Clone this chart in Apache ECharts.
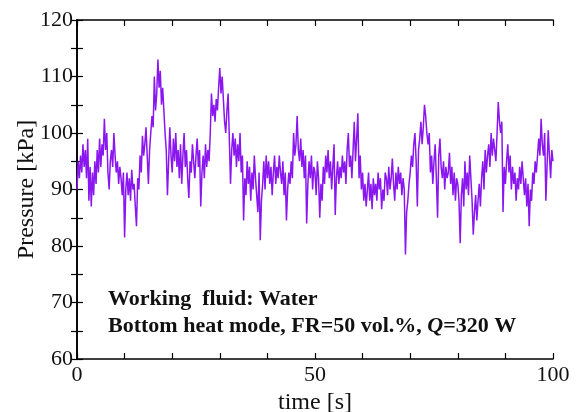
<!DOCTYPE html>
<html>
<head>
<meta charset="utf-8">
<script src="https://cdn.jsdelivr.net/npm/echarts@6/dist/echarts.min.js"></script>
<style>
  html, body { margin: 0; padding: 0; background: #fff; }
  #pressure_chart { width: 578px; height: 412px; }
</style>
</head>
<body>
<div id="pressure_chart"></div>
<script>
var sampleStep = 0.25;
var pressure = [
  90, 95, 92, 96,   93, 98, 94, 97,   92, 99, 88, 94,   87, 93, 89, 95,
  91, 97, 93, 99,   94, 98, 96, 102.5, 97, 100, 93, 90,  95, 97, 94, 100,
  96, 93, 95, 91,   94, 92, 89, 93,   81.5, 90, 93, 89, 92, 88, 93.5, 90,
  91, 87, 83.5, 92, 90, 96, 93, 99.5, 96, 98, 101, 96,  91, 97, 100, 103,
  101, 110, 104, 107, 113, 108, 111, 105, 108, 104, 100, 97, 89, 95, 101, 96,
  93, 99, 95, 100,  94, 97, 92, 98,   91, 96, 100, 94,  97, 92, 88.5, 95,
  93, 98, 95, 92,   96, 99, 94, 97,   87, 93, 96, 92,   98, 94, 97, 95,
  100, 107, 103, 105, 102, 106, 104, 108, 111.5, 107, 110, 106, 102, 100, 104, 107,
  99, 91, 97, 100,  96, 99, 94, 98,   95, 100, 93, 96,  84.5, 92, 89, 95,
  91, 94, 88, 93,   90, 96, 92, 89,   86, 93, 81, 88,   91, 95, 90, 96,
  92, 95, 91, 94,   89, 93, 96, 91,   94, 92, 96, 93,   91, 95, 89, 93,
  84.5, 90, 93, 91, 95, 92, 100, 96,  98, 103, 97, 95,  99, 94, 97, 92,
  96, 84, 91, 95,   92, 96, 90, 94,   93, 89, 95, 92,   85, 91, 88, 94,
  91, 96, 93, 97,   92, 95, 90, 94,   98, 85.5, 92, 95, 91, 94, 92, 96,
  93, 95, 91, 97,   100, 94, 96, 92,  97, 102, 95, 99,  103.5, 92, 96, 90,
  93, 88, 91, 87,   90, 93, 88, 91,   86.5, 92, 89, 91, 88, 93, 90, 92,
  86.5, 90, 88, 93, 92, 89, 94, 90,   92, 95.5, 91, 88, 93, 90, 94, 91,
  93, 89, 92, 90,   78.5, 86, 88, 91, 93, 96, 94, 98,   100, 95, 87, 97,
  99, 102, 98, 101, 105, 103, 100, 98, 100, 93, 96, 91, 95, 98, 92, 85,
  96, 99, 94, 92,   95, 90, 94, 92,   93, 96.5, 91, 94, 89, 93, 88, 92,
  91, 88, 80.5, 89, 92, 87, 95, 90,   93, 89, 96, 92,   88, 82, 86, 89,
  84.5, 88, 91, 87, 92, 95, 90, 97,   93, 96, 98, 94,   100, 96, 99, 97,
  95, 100, 105.5, 102, 100, 102, 86, 94, 91, 95, 98, 93, 96, 90, 94, 91,
  93, 88, 92, 90,   94, 91, 95, 92,   89, 92, 87, 91,   83.5, 90, 88, 93,
  91, 95, 93, 96,   99, 96, 102.5, 98, 96, 100, 88, 94, 100.5, 96, 92, 97,
  95
];
var xTickLabels = [0, 50, 100];
var yTickLabels = [60, 70, 80, 90, 100, 110, 120];

var points = [];
for (var i = 0; i < pressure.length; i++) {
  points.push([i * sampleStep, pressure[i]]);
}

var serif = '"Liberation Serif", "Times New Roman", serif';
var myChart = echarts.init(document.getElementById('pressure_chart'));

var option = {
  animation: false,
  backgroundColor: '#fff',
  grid: { left: 77, right: 25, top: 20, bottom: 53, outerBoundsMode: 'none' },
  xAxis: [
    {
      type: 'value', min: 0, max: 100, interval: 10,
      name: 'time [s]', nameLocation: 'middle', nameGap: 29,
      nameTextStyle: { fontFamily: serif, fontSize: 24, color: '#111' },
      axisLine: { show: true, lineStyle: { color: '#000', width: 1.6 } },
      axisTick: { show: true, inside: true, length: 6, lineStyle: { color: '#000', width: 1.2 } },
      axisLabel: {
        fontFamily: serif, fontSize: 22, color: '#111', margin: 5,
        formatter: function (v) { return xTickLabels.indexOf(v) >= 0 ? String(v) : ''; }
      },
      splitLine: { show: false }
    },
    {
      type: 'value', min: 0, max: 100, interval: 10, position: 'top',
      axisLine: { show: true, lineStyle: { color: '#000', width: 1.6 } },
      axisTick: { show: true, inside: true, length: 6, lineStyle: { color: '#000', width: 1.2 } },
      axisLabel: { show: false },
      splitLine: { show: false }
    }
  ],
  yAxis: [
    {
      type: 'value', min: 60, max: 120, interval: 5,
      name: 'Pressure [kPa]', nameLocation: 'middle', nameGap: 38, nameMoveOverlap: false,
      nameTextStyle: { fontFamily: serif, fontSize: 24, color: '#111' },
      axisLine: { show: true, lineStyle: { color: '#000', width: 1.6 } },
      axisTick: { show: true, inside: true, length: 6, lineStyle: { color: '#000', width: 1.2 } },
      axisLabel: {
        fontFamily: serif, fontSize: 22, color: '#111', margin: 4,
        formatter: function (v) { return yTickLabels.indexOf(v) >= 0 ? String(v) : ''; }
      },
      splitLine: { show: false }
    },
    {
      type: 'value', min: 60, max: 120, interval: 5, position: 'right',
      axisLine: { show: true, lineStyle: { color: '#000', width: 1.6 } },
      axisTick: { show: true, inside: true, length: 6, lineStyle: { color: '#000', width: 1.2 } },
      axisLabel: { show: false },
      splitLine: { show: false }
    }
  ],
  graphic: [
    {
      type: 'text', left: 108, top: 288,
      style: {
        text: 'Working  fluid: Water',
        font: 'bold 22px ' + serif, fill: '#111'
      }
    },
    {
      type: 'text', left: 108, top: 315,
      style: {
        text: '{b|Bottom heat mode, FR=50 vol.%, }{q|Q}{b|=320 W}',
        rich: {
          b: { fontFamily: serif, fontWeight: 'bold', fontSize: 22, fill: '#111' },
          q: { fontFamily: serif, fontWeight: 'bold', fontStyle: 'italic', fontSize: 22, fill: '#111' }
        }
      }
    }
  ],
  series: [
    {
      name: 'Pressure',
      type: 'line',
      data: points,
      showSymbol: false,
      lineStyle: { color: '#8a16f0', width: 1.5 },
      z: 1
    }
  ]
};

myChart.setOption(option);
</script>
</body>
</html>
